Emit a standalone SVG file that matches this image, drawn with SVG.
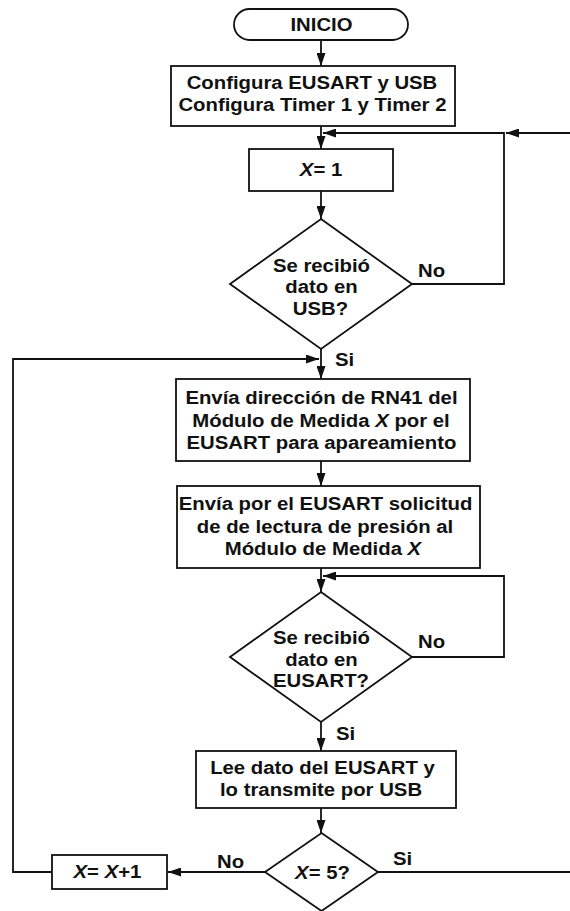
<svg xmlns="http://www.w3.org/2000/svg" width="570" height="911" viewBox="0 0 570 911">
<style>
.s{fill:#fff;stroke:#111;stroke-width:1.8}
.c{fill:none;stroke:#111;stroke-width:1.8}
text{font-family:"Liberation Sans",Arial,sans-serif;font-weight:bold;font-size:18px;fill:#111;text-anchor:middle}
.l{text-anchor:start}
.i{font-style:italic}
</style>
<defs>
<marker id="a" markerUnits="userSpaceOnUse" markerWidth="13" markerHeight="9" refX="13" refY="4.5" orient="auto"><path d="M0,0 L13,4.5 L0,9 z" fill="#111"/></marker>
</defs>
<rect width="570" height="911" fill="#fff"/>
<g id="connectors">
<line class="c" x1="321" y1="40" x2="321" y2="66" marker-end="url(#a)"/>
<line class="c" x1="321" y1="126" x2="321" y2="149" marker-end="url(#a)"/>
<line class="c" x1="321" y1="191" x2="321" y2="219" marker-end="url(#a)"/>
<polyline class="c" points="412,284 504,284 504,133 323,133" marker-end="url(#a)"/>
<line class="c" x1="570" y1="133" x2="506" y2="133" marker-end="url(#a)"/>
<line class="c" x1="321" y1="349" x2="321" y2="379" marker-end="url(#a)"/>
<polyline class="c" points="52,872 13,872 13,359 319,359" marker-end="url(#a)"/>
<line class="c" x1="321" y1="461" x2="321" y2="486" marker-end="url(#a)"/>
<line class="c" x1="321" y1="568" x2="321" y2="592" marker-end="url(#a)"/>
<polyline class="c" points="412,657 504,657 504,576 323,576" marker-end="url(#a)"/>
<line class="c" x1="321" y1="722" x2="321" y2="751" marker-end="url(#a)"/>
<line class="c" x1="321" y1="808" x2="321" y2="833" marker-end="url(#a)"/>
<line class="c" x1="265" y1="872" x2="168" y2="872" marker-end="url(#a)"/>
<line class="c" x1="378" y1="872" x2="570" y2="872"/>
<text class="l" transform="scale(1.13 1)" x="369.9" y="277">No</text>
<text class="l" transform="scale(1.13 1)" x="296.5" y="366">Si</text>
<text class="l" transform="scale(1.13 1)" x="369.9" y="648">No</text>
<text class="l" transform="scale(1.13 1)" x="297.3" y="740">Si</text>
<text class="l" transform="scale(1.13 1)" x="192" y="868">No</text>
<text class="l" transform="scale(1.13 1)" x="347.8" y="865">Si</text>
</g>
<g id="inicio">
<rect class="s" x="234" y="9" width="174" height="31" rx="15.5"/>
<text transform="scale(1.13 1)" x="284.5" y="31.5">INICIO</text>
</g>
<g id="configura">
<rect class="s" x="171" y="66" width="284" height="60"/>
<text transform="scale(1.13 1)" x="276.1" y="89">Configura EUSART y USB</text>
<text transform="scale(1.13 1)" x="276.5" y="111">Configura Timer 1 y Timer 2</text>
</g>
<g id="x1">
<rect class="s" x="249" y="149" width="144" height="42"/>
<text transform="scale(1.13 1)" x="284.1" y="176.5"><tspan class="i">X</tspan>= 1</text>
</g>
<g id="dec-usb">
<polygon class="s" points="321,219 412,284 321,349 230,284"/>
<text transform="scale(1.13 1)" x="284.5" y="272">Se recibió</text>
<text transform="scale(1.13 1)" x="284.5" y="293.5">dato en</text>
<text transform="scale(1.13 1)" x="283.6" y="315">USB?</text>
</g>
<g id="envia-dir">
<rect class="s" x="176" y="379" width="294" height="82"/>
<text transform="scale(1.13 1)" x="284.5" y="404.5">Envía dirección de RN41 del</text>
<text transform="scale(1.13 1)" x="284.1" y="427">Módulo de Medida <tspan class="i">X</tspan> por el</text>
<text transform="scale(1.13 1)" x="284.5" y="449.5">EUSART para apareamiento</text>
</g>
<g id="envia-sol">
<rect class="s" x="177" y="486" width="303" height="82"/>
<text transform="scale(1.13 1)" x="288.1" y="510.5">Envía por el EUSART solicitud</text>
<text transform="scale(1.13 1)" x="287.6" y="533">de de lectura de presión al</text>
<text transform="scale(1.13 1)" x="285.8" y="555.5">Módulo de Medida <tspan class="i">X</tspan></text>
</g>
<g id="dec-eusart">
<polygon class="s" points="321,592 412,657 321,722 230,657"/>
<text transform="scale(1.13 1)" x="284.5" y="644.5">Se recibió</text>
<text transform="scale(1.13 1)" x="284.5" y="666">dato en</text>
<text transform="scale(1.13 1)" x="284.1" y="687.5">EUSART?</text>
</g>
<g id="lee">
<rect class="s" x="196" y="751" width="260" height="57"/>
<text transform="scale(1.13 1)" x="285.4" y="774">Lee dato del EUSART y</text>
<text transform="scale(1.13 1)" x="284.1" y="796">lo transmite por USB</text>
</g>
<g id="dec-x5">
<polygon class="s" points="321.5,833 378,872 321.5,911 265,872"/>
<text transform="scale(1.13 1)" x="285.4" y="879"><tspan class="i">X</tspan>= 5?</text>
</g>
<g id="incr">
<rect class="s" x="52" y="855" width="115" height="34"/>
<text transform="scale(1.13 1)" x="95.1" y="878"><tspan class="i">X</tspan>= <tspan class="i">X</tspan>+1</text>
</g>
</svg>
